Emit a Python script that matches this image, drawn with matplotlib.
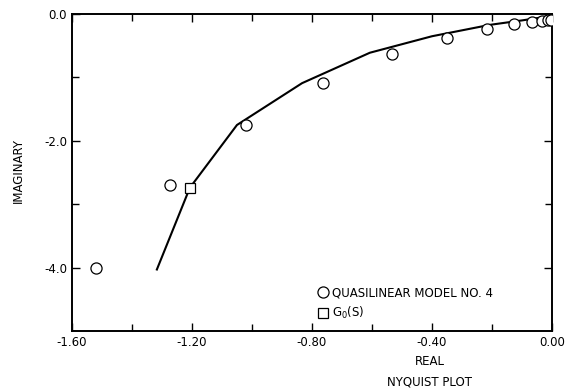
import matplotlib
matplotlib.use('Agg')
import matplotlib.pyplot as plt

plt.rcParams['font.family'] = ['DejaVu Sans']

# quasilinear model no. 4 (circles)
model_re = [-1.52, -1.273, -1.02, -0.763, -0.533, -0.35, -0.217, -0.127, -0.067, -0.033, -0.013, -0.003]
model_im = [-4.00, -2.69, -1.75, -1.09, -0.63, -0.38, -0.24, -0.16, -0.13, -0.11, -0.10, -0.10]

# G0(S) curve
g0_re = [-1.317, -1.207, -1.05, -0.833, -0.607, -0.40, -0.207, -0.10, -0.03, 0.0]
g0_im = [-4.03, -2.74, -1.75, -1.09, -0.61, -0.35, -0.17, -0.10, -0.05, -0.02]
g0_mark_re = [-1.207]
g0_mark_im = [-2.74]

xticks = [-1.6, -1.2, -0.8, -0.4, 0.0]
xticklabels = ['-1.60', '-1.20', '-0.80', '-0.40', '0.00']
yticks = [0.0, -2.0, -4.0]
yticklabels = ['0.0', '-2.0', '-4.0']

fs = 8.5
fig = plt.figure(figsize=(5.69, 3.91), dpi=100)
ax = fig.add_axes([0.1265, 0.1535, 0.8435, 0.8105])

ax.plot(g0_re, g0_im, color='black', lw=1.5, zorder=2)
ax.plot(model_re, model_im, 'o', mfc='white', mec='black', ms=8, mew=0.9,
        ls='none', label='QUASILINEAR MODEL NO. 4', zorder=3)
ax.plot(g0_mark_re, g0_mark_im, 's', mfc='white', mec='black', ms=7.5, mew=0.9,
        ls='none', label='G$_0$(S)', zorder=4)

ax.set_xlim(-1.6, 0.0)
ax.set_ylim(-5.0, 0.0)
ax.set_xticks(xticks)
ax.set_xticklabels(xticklabels)
ax.set_yticks(yticks)
ax.set_yticklabels(yticklabels)
ax.set_xticks([-1.4, -1.0, -0.6, -0.2], minor=True)
ax.set_yticks([-1.0, -3.0], minor=True)
ax.tick_params(which='both', direction='in', top=True, right=True, labelsize=fs, width=1)
ax.tick_params(which='major', length=6)
ax.tick_params(which='minor', length=5)
for s in ax.spines.values():
    s.set_linewidth(1.4)

ax.legend(loc='lower left', bbox_to_anchor=(0.51, 0.03), frameon=False, fontsize=fs,
          handletextpad=0.3, handlelength=1.0, borderaxespad=0.0, borderpad=0.0,
          labelspacing=0.5)

fig.text(0.755, 0.075, 'REAL', ha='center', va='center', fontsize=fs)
fig.text(0.755, 0.022, 'NYQUIST PLOT', ha='center', va='center', fontsize=fs)
fig.text(0.032, 0.565, 'IMAGINARY', ha='center', va='center', rotation=90, fontsize=fs)

fig.savefig('out.png', dpi=100)
